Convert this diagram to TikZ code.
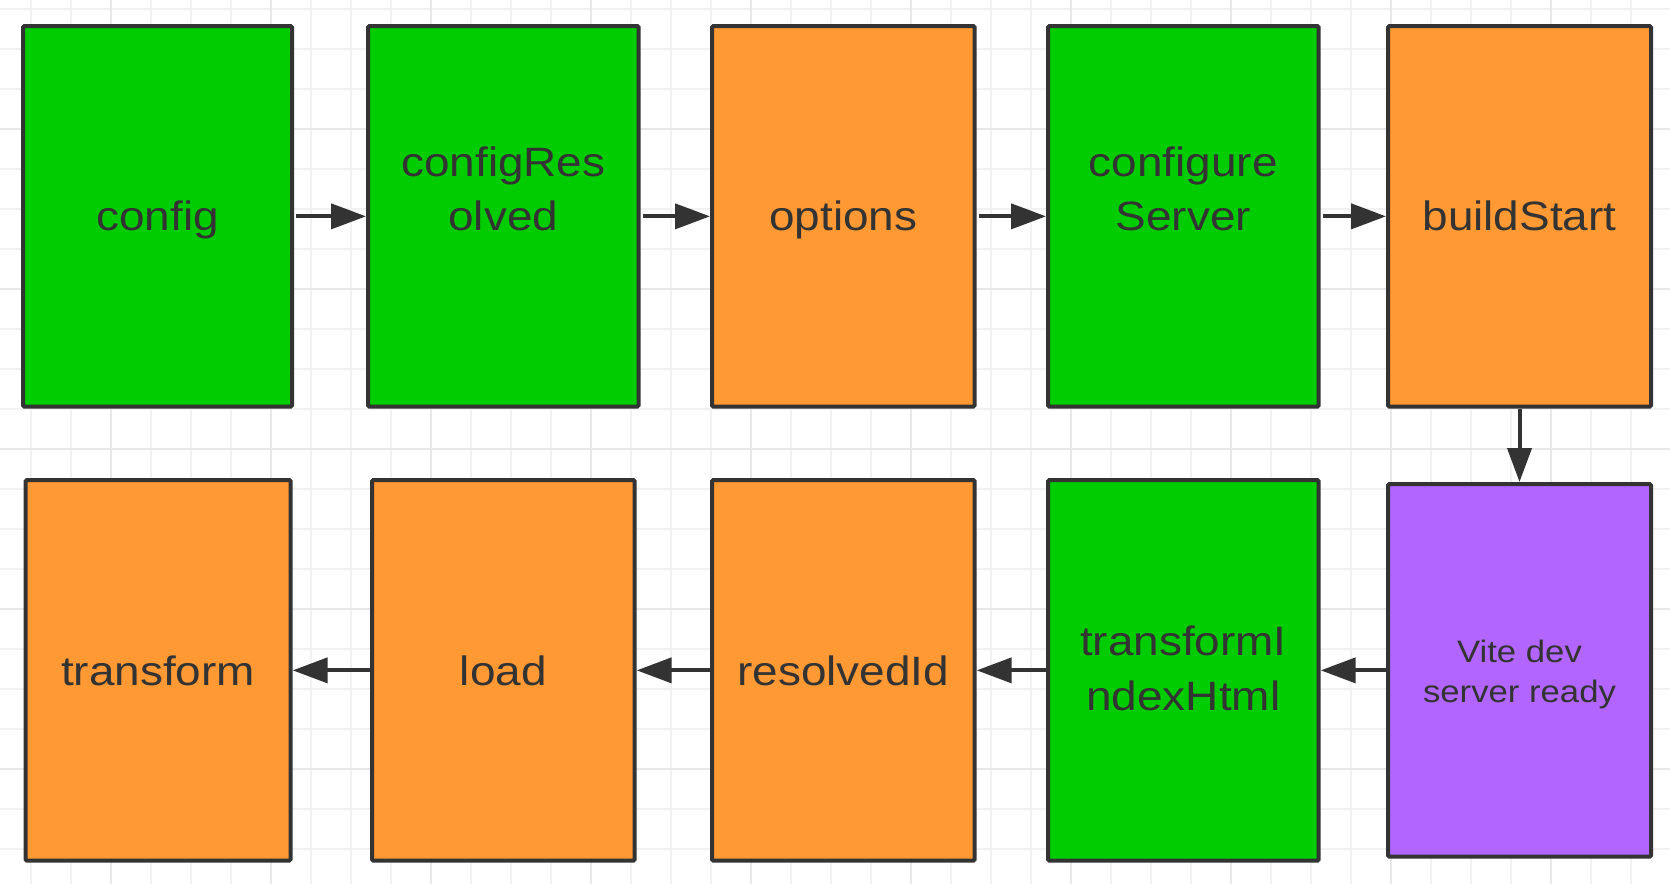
\documentclass[tikz,border=0pt]{standalone}
\usepackage{fontspec}
\setmainfont{Liberation Sans}[FakeStretch=1.12]
\usetikzlibrary{arrows.meta}
\definecolor{gboxc}{HTML}{00CC00}
\definecolor{oboxc}{HTML}{FF9933}
\definecolor{pboxc}{HTML}{B266FF}
\definecolor{edgec}{HTML}{333333}
\definecolor{gridminor}{HTML}{F1F1F1}
\definecolor{gridmajor}{HTML}{E8E8E8}
\tikzset{
  box/.style={draw=edgec, line width=4pt, rounded corners=1.5pt, rectangle, inner sep=0pt},
  toprow/.style={minimum height=380.7pt},
  botrow/.style={minimum height=380.7pt},
  lbl/.style={text=edgec, anchor=base, inner sep=0pt, font=\fontsize{41}{49}\selectfont},
  slbl/.style={text=edgec, anchor=base, inner sep=0pt, font=\fontsize{31}{37}\selectfont},
  conn/.style={draw=edgec, line width=4pt, -{Triangle[length=35pt,width=25pt]}},
}
\begin{document}
\begin{tikzpicture}[x=1pt,y=-1pt]
\useasboundingbox (0,0) rectangle (1670,884);
\fill[white] (0,0) rectangle (1670,884);
% grid
\foreach \x in {31,71,...,1671} \draw[gridminor, line width=1.5pt] (\x,0) -- (\x,884);
\foreach \y in {9,49,...,889} \draw[gridminor, line width=1.5pt] (0,\y) -- (1670,\y);
\foreach \x in {111,271,...,1671} \draw[gridmajor, line width=1.5pt] (\x,0) -- (\x,884);
\foreach \y in {129,289,...,889} \draw[gridmajor, line width=1.5pt] (0,\y) -- (1670,\y);
% top row
\node[box, toprow, fill=gboxc, minimum width=269pt]   (B1) at (157.5,216.35) {};
\node[box, toprow, fill=gboxc, minimum width=270.7pt] (B2) at (503.35,216.35) {};
\node[box, toprow, fill=oboxc, minimum width=262.7pt] (B3) at (843.35,216.35) {};
\node[box, toprow, fill=gboxc, minimum width=270.7pt] (B4) at (1183.35,216.35) {};
\node[box, toprow, fill=oboxc, minimum width=263pt]   (B5) at (1519.5,216.35) {};
% bottom row
\node[box, botrow, fill=oboxc, minimum width=265.2pt] (C1) at (158.1,670.35) {};
\node[box, botrow, fill=oboxc, minimum width=262.7pt] (C2) at (503.35,670.35) {};
\node[box, botrow, fill=oboxc, minimum width=262.7pt] (C3) at (843.35,670.35) {};
\node[box, botrow, fill=gboxc, minimum width=270.7pt] (C4) at (1183.35,670.35) {};
\node[box, fill=pboxc, minimum width=263pt, minimum height=372.7pt] (C5) at (1519.5,670.35) {};
% labels
\node[lbl] (L1) at (157.5,230) {config};
\node[lbl] (L2a) at (503.35,176) {configRes};
\node[lbl] (L2b) at (503.35,230) {olved};
\node[lbl] (L3) at (843.35,230) {options};
\node[lbl] (L4a) at (1183.35,176) {configure};
\node[lbl] (L4b) at (1183.35,230) {Server};
\node[lbl] (L5) at (1519.5,230) {buildStart};
\node[lbl] (M1) at (158.1,685) {transform};
\node[lbl] (M2) at (503.35,685) {load};
\node[lbl] (M3) at (843.35,685) {resolvedId};
\node[lbl] (M4a) at (1183.35,655) {transformI};
\node[lbl] (M4b) at (1183.35,710) {ndexHtml};
\node[slbl] (M5a) at (1519.5,662) {Vite dev};
\node[slbl] (M5b) at (1519.5,702) {server ready};
% connectors
\draw[conn, shorten <=2pt] (B1.east) -- (B2.west);
\draw[conn, shorten <=2pt] (B2.east) -- (B3.west);
\draw[conn, shorten <=2pt] (B3.east) -- (B4.west);
\draw[conn, shorten <=2pt] (B4.east) -- (B5.west);
\draw[draw=edgec, line width=4pt, -{Triangle[length=34pt,width=24pt]}] (B5.south) -- (C5.north);
\draw[conn] (C5.west) -- (C4.east);
\draw[conn] (C4.west) -- (C3.east);
\draw[conn] (C3.west) -- (C2.east);
\draw[conn] (C2.west) -- (C1.east);
\end{tikzpicture}
\end{document}
